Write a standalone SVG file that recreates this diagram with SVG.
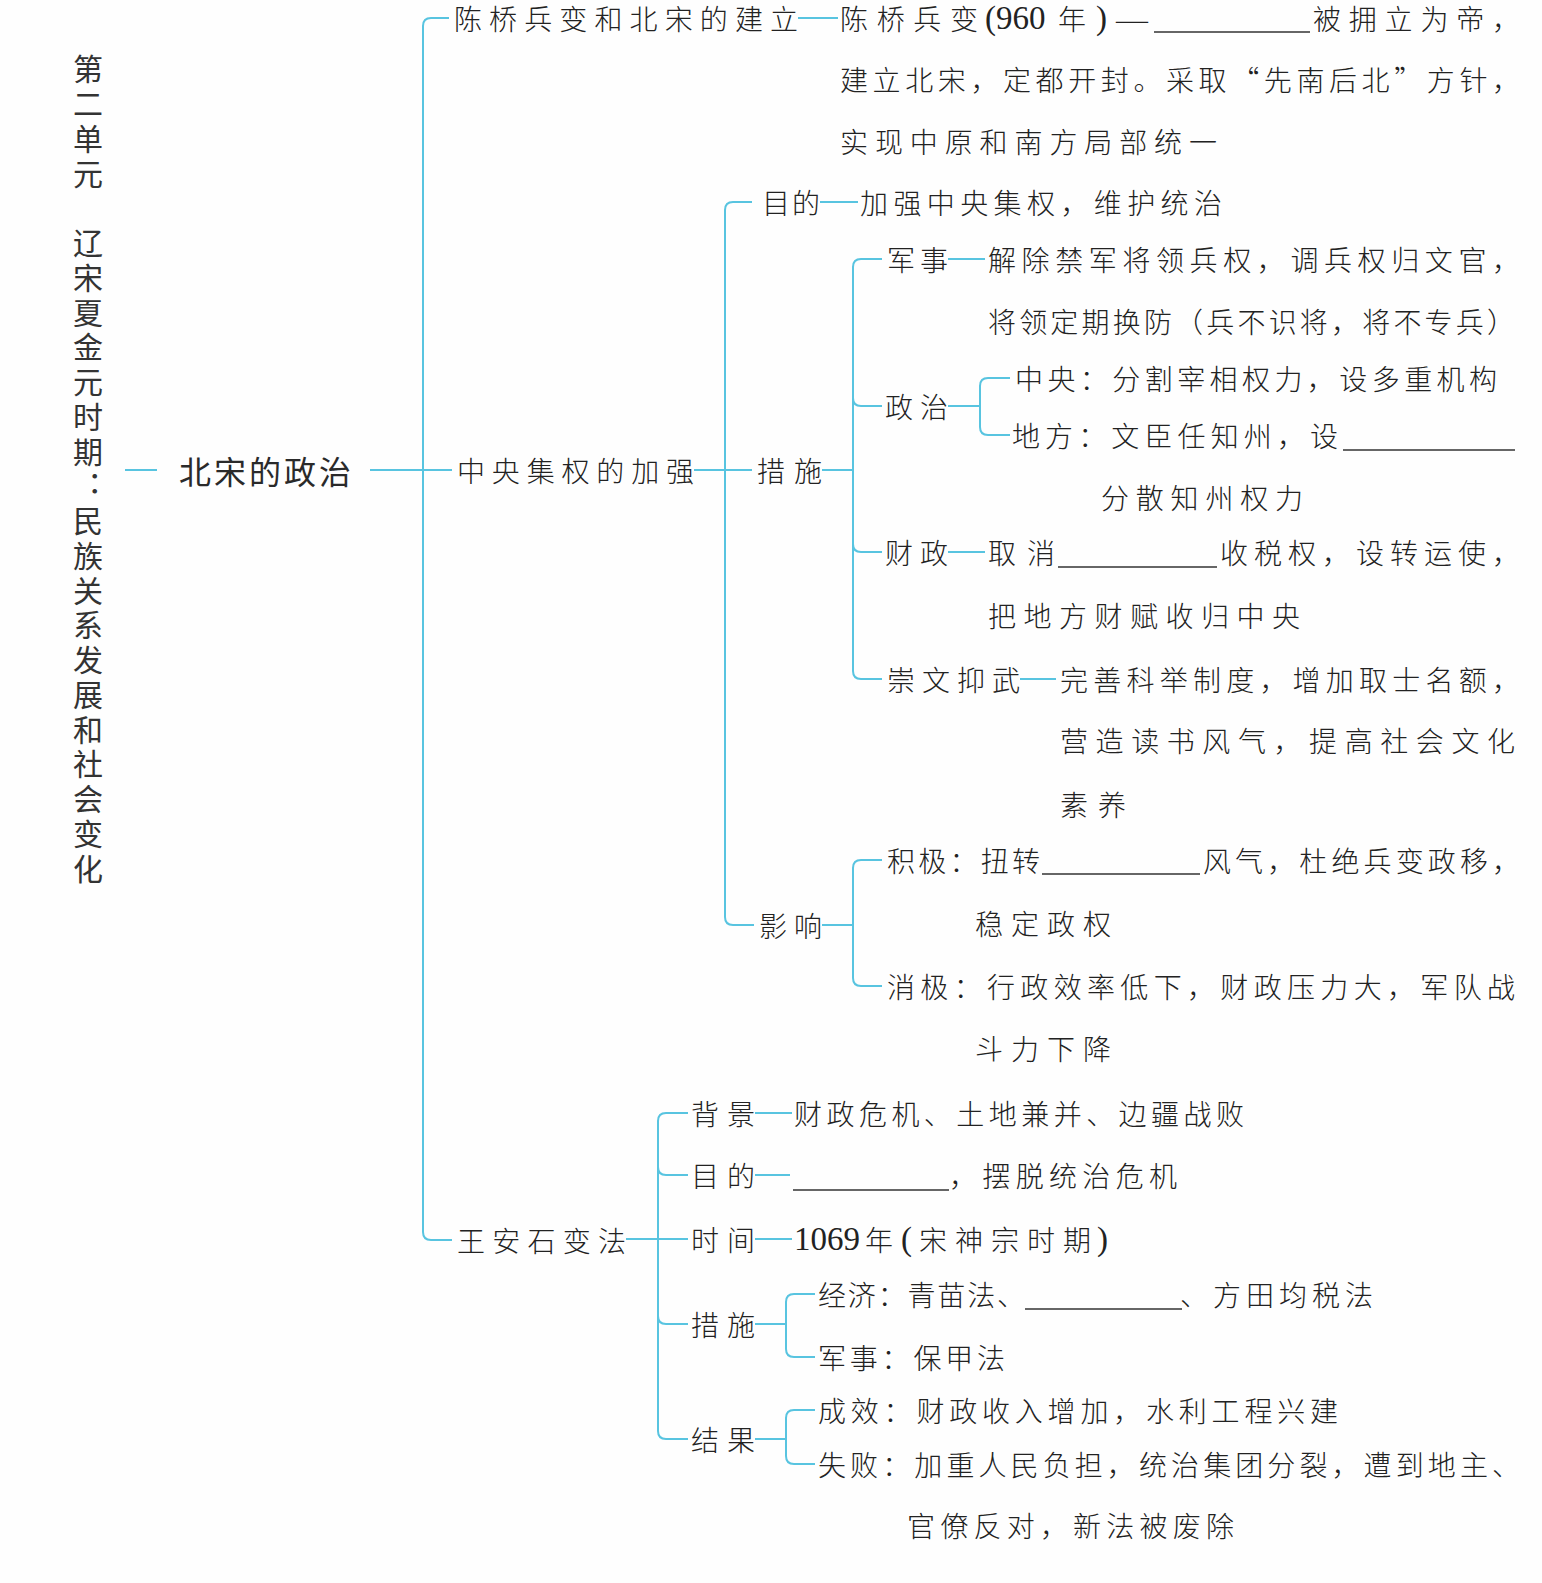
<svg xmlns="http://www.w3.org/2000/svg" width="1542" height="1583" viewBox="0 0 1542 1583">
<style>
.bg{fill:#fefefe}
.t{font-family:"Noto Sans CJK SC","Noto Sans CJK TC",sans-serif;font-size:28px;fill:#222;dominant-baseline:central;font-weight:300}
.ttl{font-family:"Noto Sans CJK SC",sans-serif;font-size:30px;fill:#333;font-weight:400;writing-mode:vertical-rl;text-orientation:upright;letter-spacing:4.75px}
.root{font-family:"Noto Sans CJK SC",sans-serif;font-size:32px;fill:#2a2a2a;dominant-baseline:central;font-weight:400}
.num{font-family:"Liberation Serif",serif;font-size:33px;font-weight:400}
.c{fill:none;stroke:#58c4e0;stroke-width:2}
.u{stroke:#333;stroke-width:1.6}
</style>
<rect class="bg" x="0" y="0" width="1542" height="1583"/>

<g id="connectors">
  <path class="c" d="M125,470 H157"/>
  <path class="c" d="M370,470 H452"/>
  <path class="c" d="M449,18 H431 Q423,18 423,26 V1232 Q423,1240 431,1240 H452"/>
  <path class="c" d="M798,18 H838"/>
  <path class="c" d="M752,202 H733 Q725,202 725,210 V917 Q725,925 733,925 H754"/>
  <path class="c" d="M694,470 H752"/>
  <path class="c" d="M820,202 H858"/>
  <path class="c" d="M822,470 H853"/>
  <path class="c" d="M882,259 H861 Q853,259 853,267 V671 Q853,679 861,679 H882"/>
  <path class="c" d="M853,398 Q853,406 861,406 H882"/>
  <path class="c" d="M853,544 Q853,552 861,552 H882"/>
  <path class="c" d="M948,259 H985"/>
  <path class="c" d="M948,406 H980"/>
  <path class="c" d="M1010,378 H988 Q980,378 980,386 V427 Q980,435 988,435 H1010"/>
  <path class="c" d="M948,552 H985"/>
  <path class="c" d="M1020,679 H1056"/>
  <path class="c" d="M822,925 H853"/>
  <path class="c" d="M882,860 H861 Q853,860 853,868 V978 Q853,986 861,986 H882"/>
  <path class="c" d="M688,1113 H666 Q658,1113 658,1121 V1431 Q658,1439 666,1439 H688"/>
  <path class="c" d="M626,1239 H688"/>
  <path class="c" d="M658,1167 Q658,1175 666,1175 H688"/>
  <path class="c" d="M658,1316 Q658,1324 666,1324 H688"/>
  <path class="c" d="M755,1113 H792"/>
  <path class="c" d="M755,1175 H790"/>
  <path class="c" d="M755,1239 H792"/>
  <path class="c" d="M755,1324 H786"/>
  <path class="c" d="M815,1294 H794 Q786,1294 786,1302 V1349 Q786,1357 794,1357 H815"/>
  <path class="c" d="M755,1439 H786"/>
  <path class="c" d="M815,1410 H794 Q786,1410 786,1418 V1456 Q786,1464 794,1464 H815"/>
</g>

<g id="n-title">
  <text class="ttl" x="88" y="54">第二单元　辽宋夏金元时期：民族关系发展和社会变化</text>
</g>

<g id="n-root"><text class="root" x="179" y="470" textLength="172" lengthAdjust="spacing">北宋的政治</text></g>

<g id="n-chenqiao">
  <text class="t" x="454" y="18" textLength="344" lengthAdjust="spacing">陈桥兵变和北宋的建立</text>
</g>
<g id="n-chenqiao-detail">
  <text class="t" x="840" y="18" textLength="138" lengthAdjust="spacing">陈桥兵变</text>
  <text class="t num" x="985" y="18">(960</text>
  <text class="t" x="1058" y="18">年</text>
  <text class="t num" x="1096" y="18">)</text>
  <text class="t" x="1114" y="18" textLength="36" lengthAdjust="spacingAndGlyphs">—</text>
  <line class="u" x1="1154" y1="32" x2="1310" y2="32"/>
  <text class="t" x="1313" y="18" textLength="207" lengthAdjust="spacing">被拥立为帝，</text>
  <text class="t" x="840" y="79" textLength="680" lengthAdjust="spacing">建立北宋，定都开封。采取“先南后北”方针，</text>
  <text class="t" x="840" y="141" textLength="377" lengthAdjust="spacing">实现中原和南方局部统一</text>
</g>

<g id="n-jiaqiang"><text class="t" x="457" y="470" textLength="237" lengthAdjust="spacing">中央集权的加强</text></g>

<g id="n-mudi"><text class="t" x="762" y="202" textLength="58" lengthAdjust="spacing">目的</text></g>
<g id="n-mudi-detail"><text class="t" x="860" y="202" textLength="362" lengthAdjust="spacing">加强中央集权，维护统治</text></g>

<g id="n-cuoshi"><text class="t" x="757" y="470" textLength="65" lengthAdjust="spacing">措施</text></g>

<g id="n-junshi"><text class="t" x="887" y="259" textLength="61" lengthAdjust="spacing">军事</text></g>
<g id="n-junshi-detail">
  <text class="t" x="988" y="259" textLength="532" lengthAdjust="spacing">解除禁军将领兵权，调兵权归文官，</text>
  <text class="t" x="988" y="321" textLength="527" lengthAdjust="spacing">将领定期换防（兵不识将，将不专兵）</text>
</g>

<g id="n-zhengzhi"><text class="t" x="885" y="406" textLength="63" lengthAdjust="spacing">政治</text></g>
<g id="n-zhongyang"><text class="t" x="1015" y="378" textLength="482" lengthAdjust="spacing">中央：分割宰相权力，设多重机构</text></g>
<g id="n-difang">
  <text class="t" x="1012" y="435" textLength="326" lengthAdjust="spacing">地方：文臣任知州，设</text>
  <line class="u" x1="1343" y1="450" x2="1515" y2="450"/>
  <text class="t" x="1101" y="497" textLength="202" lengthAdjust="spacing">分散知州权力</text>
</g>

<g id="n-caizheng"><text class="t" x="885" y="552" textLength="63" lengthAdjust="spacing">财政</text></g>
<g id="n-caizheng-detail">
  <text class="t" x="988" y="552" textLength="67" lengthAdjust="spacing">取消</text>
  <line class="u" x1="1058" y1="567" x2="1217" y2="567"/>
  <text class="t" x="1220" y="552" textLength="300" lengthAdjust="spacing">收税权，设转运使，</text>
  <text class="t" x="988" y="615" textLength="312" lengthAdjust="spacing">把地方财赋收归中央</text>
</g>

<g id="n-chongwen"><text class="t" x="887" y="679" textLength="133" lengthAdjust="spacing">崇文抑武</text></g>
<g id="n-chongwen-detail">
  <text class="t" x="1060" y="679" textLength="460" lengthAdjust="spacing">完善科举制度，增加取士名额，</text>
  <text class="t" x="1060" y="740" textLength="455" lengthAdjust="spacing">营造读书风气，提高社会文化</text>
  <text class="t" x="1060" y="804" textLength="66" lengthAdjust="spacing">素养</text>
</g>

<g id="n-yingxiang"><text class="t" x="759" y="925" textLength="63" lengthAdjust="spacing">影响</text></g>
<g id="n-jiji">
  <text class="t" x="887" y="860" textLength="153" lengthAdjust="spacing">积极：扭转</text>
  <line class="u" x1="1042" y1="874" x2="1200" y2="874"/>
  <text class="t" x="1203" y="860" textLength="317" lengthAdjust="spacing">风气，杜绝兵变政移，</text>
  <text class="t" x="975" y="923" textLength="136" lengthAdjust="spacing">稳定政权</text>
</g>
<g id="n-xiaoji">
  <text class="t" x="887" y="986" textLength="628" lengthAdjust="spacing">消极：行政效率低下，财政压力大，军队战</text>
  <text class="t" x="975" y="1048" textLength="136" lengthAdjust="spacing">斗力下降</text>
</g>

<g id="n-wang"><text class="t" x="457" y="1240" textLength="169" lengthAdjust="spacing">王安石变法</text></g>

<g id="n-beijing"><text class="t" x="691" y="1113" textLength="64" lengthAdjust="spacing">背景</text></g>
<g id="n-beijing-detail"><text class="t" x="794" y="1113" textLength="450" lengthAdjust="spacing">财政危机、土地兼并、边疆战败</text></g>

<g id="n-mudi2"><text class="t" x="691" y="1175" textLength="64" lengthAdjust="spacing">目的</text></g>
<g id="n-mudi2-detail">
  <line class="u" x1="793" y1="1190" x2="949" y2="1190"/>
  <text class="t" x="949" y="1175" textLength="228" lengthAdjust="spacing">，摆脱统治危机</text>
</g>

<g id="n-shijian"><text class="t" x="691" y="1239" textLength="64" lengthAdjust="spacing">时间</text></g>
<g id="n-shijian-detail">
  <text class="t num" x="794" y="1239">1069</text>
  <text class="t" x="865" y="1239">年</text>
  <text class="t num" x="901" y="1239">(</text>
  <text class="t" x="919" y="1239" textLength="172" lengthAdjust="spacing">宋神宗时期</text>
  <text class="t num" x="1097" y="1239">)</text>
</g>

<g id="n-cuoshi2"><text class="t" x="691" y="1324" textLength="64" lengthAdjust="spacing">措施</text></g>
<g id="n-jingji">
  <text class="t" x="818" y="1294" textLength="207" lengthAdjust="spacing">经济：青苗法、</text>
  <line class="u" x1="1025" y1="1309" x2="1182" y2="1309"/>
  <text class="t" x="1180" y="1294" textLength="193" lengthAdjust="spacing">、方田均税法</text>
</g>
<g id="n-junshi2"><text class="t" x="818" y="1357" textLength="187" lengthAdjust="spacing">军事：保甲法</text></g>

<g id="n-jieguo"><text class="t" x="691" y="1439" textLength="64" lengthAdjust="spacing">结果</text></g>
<g id="n-chengxiao"><text class="t" x="818" y="1410" textLength="520" lengthAdjust="spacing">成效：财政收入增加，水利工程兴建</text></g>
<g id="n-shibai">
  <text class="t" x="818" y="1464" textLength="702" lengthAdjust="spacing">失败：加重人民负担，统治集团分裂，遭到地主、</text>
  <text class="t" x="907" y="1525" textLength="327" lengthAdjust="spacing">官僚反对，新法被废除</text>
</g>
</svg>
